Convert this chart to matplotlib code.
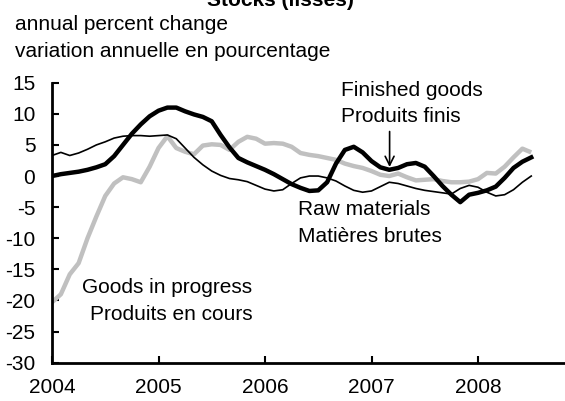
import numpy as np
import matplotlib
matplotlib.use('Agg')
import matplotlib.pyplot as plt

plt.rcParams['font.family'] = ['Liberation Sans', 'DejaVu Sans']
plt.rcParams['axes.unicode_minus'] = False

# Mensuel, janvier 2004 a juillet 2008
start_year = 2004
years = [2004, 2005, 2006, 2007, 2008]
y_ticks = [15, 10, 5, 0, -5, -10, -15, -20, -25, -30]

finished_goods = [
    0.0, 0.3, 0.5, 0.7, 1.0, 1.4, 1.9, 3.2, 5.0, 6.8, 8.3, 9.6,
    10.5, 11.0, 11.0, 10.4, 9.9, 9.5, 8.8, 6.6, 4.6, 2.9, 2.2, 1.6,
    1.0, 0.3, -0.5, -1.3, -1.9, -2.4, -2.3, -1.0, 2.0, 4.2, 4.7, 3.8,
    2.4, 1.4, 1.0, 1.3, 1.9, 2.1, 1.5, 0.0, -1.6, -3.0, -4.2, -3.0,
    -2.7, -2.3, -1.7, -0.3, 1.3, 2.3, 3.0,
]
raw_materials = [
    3.3, 3.8, 3.3, 3.7, 4.3, 5.0, 5.5, 6.1, 6.4, 6.5, 6.5, 6.4,
    6.5, 6.6, 6.0, 4.5, 3.0, 1.8, 0.8, 0.1, -0.4, -0.6, -0.9, -1.5,
    -2.1, -2.4, -2.2, -1.2, -0.3, 0.0, 0.0, -0.3, -0.8, -1.6, -2.3, -2.6,
    -2.4, -1.7, -1.0, -1.2, -1.6, -2.0, -2.3, -2.5, -2.7, -2.9, -2.0, -1.5,
    -1.8, -2.6, -3.2, -3.0, -2.2, -1.0, 0.0,
]
goods_in_progress = [
    -20.3, -19.0, -15.8, -14.0, -10.0, -6.5, -3.2, -1.2, -0.2, -0.5, -1.0, 1.5,
    4.5, 6.4, 4.5, 3.9, 3.5, 4.9, 5.1, 5.0, 4.2, 5.5, 6.3, 6.0,
    5.2, 5.3, 5.2, 4.7, 3.7, 3.4, 3.2, 2.9, 2.6, 2.0, 1.6, 1.3,
    0.8, 0.2, 0.0, 0.4, -0.2, -0.7, -0.6, -0.5, -0.8, -1.0, -1.0, -0.9,
    -0.5, 0.5, 0.4, 1.5, 3.0, 4.4, 3.8,
]

t = start_year + np.arange(len(finished_goods)) / 12.0

fig = plt.figure(figsize=(5.65, 4.01), dpi=100)
ax = fig.add_axes([52 / 565, 1 - 362.7 / 401, 532.5 / 565, 280 / 401])

ax.plot(t, goods_in_progress, color='#c0c0c0', lw=3.2, solid_capstyle='butt')
ax.plot(t, raw_materials, color='black', lw=1.2)
ax.plot(t, finished_goods, color='black', lw=3.2)

ax.set_xlim(2004, 2009)
ax.set_ylim(-30, 15)
ax.set_xticks(years)
ax.set_xticklabels([str(y) for y in years])
ax.set_yticks(y_ticks)

for side in ['top', 'right']:
    ax.spines[side].set_visible(False)
for side in ['left', 'bottom']:
    ax.spines[side].set_linewidth(2)
ax.tick_params(axis='both', direction='in', length=5, width=1.5, labelsize=15)
ax.tick_params(axis='y', pad=12)
ax.tick_params(axis='x', pad=11)

fs = 15
ax.text(2006.71, 13.8, 'Finished goods', fontsize=fs, va='center', ha='left')
ax.text(2006.71, 9.5, 'Produits finis', fontsize=fs, va='center', ha='left')
ax.annotate('', xy=(2007.17, 1.0), xytext=(2007.17, 7.6),
            arrowprops=dict(arrowstyle='->', lw=1.2, color='black', mutation_scale=16))
ax.text(2006.31, -5.4, 'Raw materials', fontsize=fs, va='center', ha='left')
ax.text(2006.31, -9.7, 'Matières brutes', fontsize=fs, va='center', ha='left')
ax.text(2005.88, -17.9, 'Goods in progress', fontsize=fs, va='center', ha='right')
ax.text(2005.88, -22.2, 'Produits en cours', fontsize=fs, va='center', ha='right')

fig.text(15 / 565, 1 - 24 / 401, 'annual percent change', fontsize=fs, va='center', ha='left')
fig.text(15 / 565, 1 - 51.6 / 401, 'variation annuelle en pourcentage', fontsize=fs,
         va='center', ha='left')
fig.text(280 / 565, 1 - 6 / 401, 'Stocks (lissés)', fontsize=15, fontweight='bold',
         va='baseline', ha='center')

fig.savefig('out.png', dpi=100)
